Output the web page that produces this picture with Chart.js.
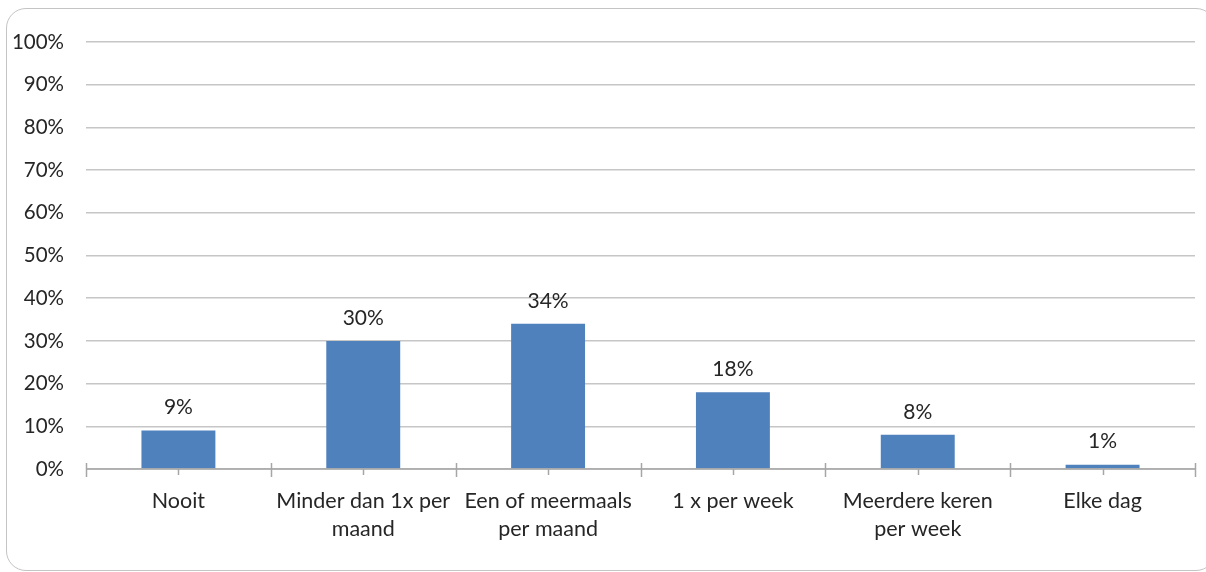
<!DOCTYPE html>
<html>
<head>
<meta charset="utf-8">
<script src="https://cdn.jsdelivr.net/npm/chart.js@4.4.1/dist/chart.umd.min.js"></script>
<style>
  html, body { margin: 0; padding: 0; background: #fff; }
  #wrap { position: relative; width: 1206px; height: 572px; overflow: hidden; }
  #frame { position: absolute; left: 6px; top: 8px; width: 1210px; height: 563px;
           border: 1.5px solid #c4c4c4; border-radius: 20px; box-sizing: border-box; }
  canvas { position: absolute; left: 0; top: 0; }
</style>
</head>
<body>
<div id="wrap">
  <div id="frame"></div>
  <canvas id="c" width="1206" height="572"></canvas>
</div>
<script>
const categories = [
  "Nooit",
  ["Minder dan 1x per", "maand"],
  ["Een of meermaals", "per maand"],
  "1 x per week",
  ["Meerdere keren", "per week"],
  "Elke dag"
];
const values = [9, 30, 34, 18, 8, 1];
const yTicks = [0, 10, 20, 30, 40, 50, 60, 70, 80, 90, 100];

const FONT = "Lato, 'Open Sans', sans-serif";
const TEXT = "#262626";

const labelPlugin = {
  id: 'barLabels',
  afterDatasetsDraw(chart) {
    const ctx = chart.ctx;
    const meta = chart.getDatasetMeta(0);
    ctx.save();
    ctx.font = "21px " + FONT;
    ctx.fillStyle = TEXT;
    ctx.textAlign = 'center';
    ctx.textBaseline = 'middle';
    meta.data.forEach((bar, i) => {
      ctx.fillText(values[i] + '%', bar.x, bar.y - 23);
    });
    ctx.restore();
  }
};

const tickPlugin = {
  id: 'xTicks',
  afterDatasetsDraw(chart) {
    const ctx = chart.ctx;
    const xs = chart.scales.x;
    const ys = chart.scales.y;
    const y0 = ys.getPixelForValue(0);
    const step = xs.getPixelForValue(1) - xs.getPixelForValue(0);
    ctx.save();
    ctx.strokeStyle = '#a6a6a6';
    ctx.lineWidth = 1.5;
    ctx.beginPath();
    for (let i = 0; i <= categories.length; i++) {
      const x = Math.round(xs.getPixelForValue(0) - step / 2 + i * step) + 0.5;
      ctx.moveTo(x, y0 - 6); ctx.lineTo(x, y0 + 8);
    }
    for (let i = 0; i < categories.length; i++) {
      const x = Math.round(xs.getPixelForValue(i)) + 0.5;
      ctx.moveTo(x, y0); ctx.lineTo(x, y0 + 6);
    }
    ctx.moveTo(xs.left, y0); ctx.lineTo(xs.right, y0);
    ctx.stroke();
    ctx.restore();
  }
};

new Chart(document.getElementById('c'), {
  type: 'bar',
  data: {
    labels: categories,
    datasets: [{
      data: values,
      backgroundColor: '#4f81bd',
      barPercentage: 0.4,
      categoryPercentage: 1.0
    }]
  },
  options: {
    responsive: false,
    animation: false,
    devicePixelRatio: 1,
    layout: { padding: { top: 42, right: 11, left: 0, bottom: 0 } },
    plugins: { legend: { display: false }, tooltip: { enabled: false } },
    scales: {
      y: {
        min: 0, max: 100,
        afterBuildTicks(scale) { scale.ticks = yTicks.map(v => ({ value: v })); },
        afterFit(scale) { scale.width = 86; },
        ticks: {
          padding: 22,
          color: TEXT,
          font: { family: FONT, size: 20.5 },
          callback: v => v + '%'
        },
        grid: { color: '#c6c6c6', lineWidth: 1.5, drawTicks: false },
        border: { display: false }
      },
      x: {
        afterFit(scale) { scale.height = 103; },
        ticks: {
          padding: 18,
          color: TEXT,
          font: { family: FONT, size: 21.5, lineHeight: 1.3 },
          maxRotation: 0, autoSkip: false
        },
        grid: { display: false, drawTicks: false },
        border: { display: false }
      }
    }
  },
  plugins: [labelPlugin, tickPlugin]
});
</script>
</body>
</html>
